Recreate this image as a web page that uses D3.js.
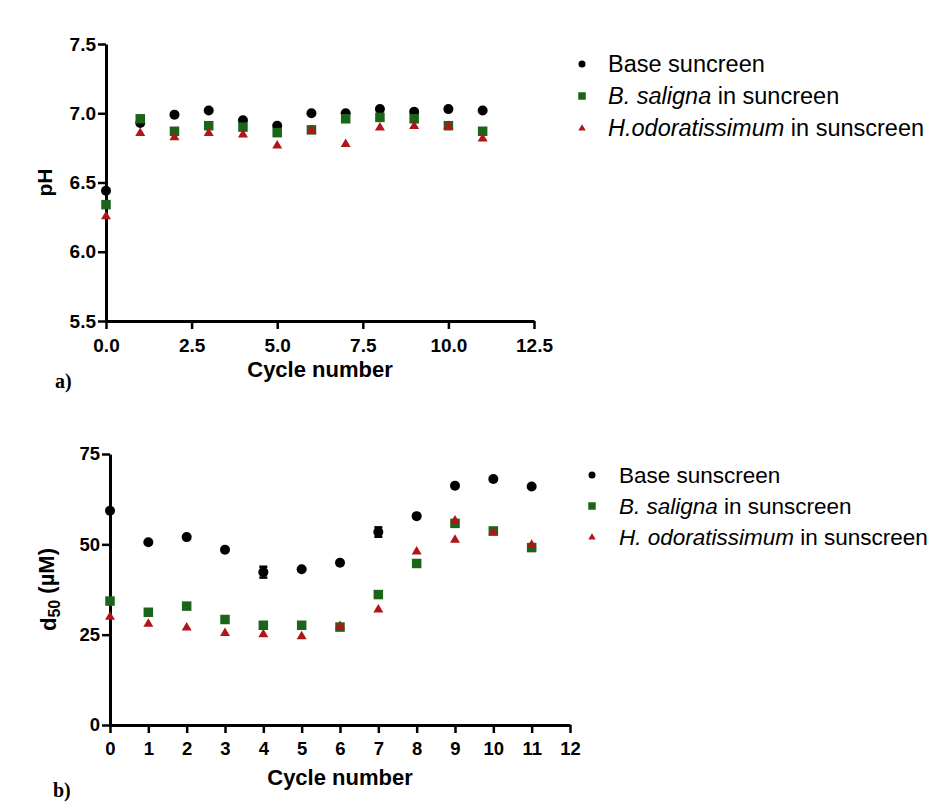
<!DOCTYPE html>
<html lang="en">
<head>
<meta charset="UTF-8">
<title>pH and d50 over cycles</title>
<script src="https://d3js.org/d3.v7.min.js"></script>
<style>
  html, body { margin: 0; padding: 0; background: #fff; overflow: hidden; }
  svg { display: block; }
  .axis path, .axis line { stroke: #000; }
  .axis text { font-family: "Liberation Sans", Arial, sans-serif; font-weight: bold; fill: #000; }
  .title { font-family: "Liberation Sans", Arial, sans-serif; font-weight: bold; fill: #000; }
  .legend text { font-family: "Liberation Sans", Arial, sans-serif; fill: #000; }
  .panel-tag { font-family: "Liberation Serif", "Times New Roman", serif; font-weight: bold; font-size: 20px; }
</style>
</head>
<body>
<svg id="chart" width="947" height="803"></svg>
<script>
// ---- data ----
const cycles = [0, 1, 2, 3, 4, 5, 6, 7, 8, 9, 10, 11];

// panel a: pH
const phBase    = [6.44, 6.93, 6.99, 7.02, 6.95, 6.91, 7.00, 7.00, 7.03, 7.01, 7.03, 7.02];
const phSaligna = [6.34, 6.96, 6.87, 6.91, 6.90, 6.86, 6.88, 6.96, 6.97, 6.96, 6.91, 6.87];
const phHodor   = [6.26, 6.86, 6.83, 6.86, 6.85, 6.77, 6.88, 6.78, 6.90, 6.91, 6.91, 6.82];

// panel b: d50 (uM)
const d50Base      = [59.3, 50.6, 52.0, 48.5, 42.3, 43.1, 44.9, 53.4, 57.8, 66.2, 68.1, 66.0];
const d50BaseErr   = [0, 0, 0, 0, 1.5, 0, 0, 1.3, 0, 0, 0, 0];
const d50Saligna   = [34.3, 31.2, 32.9, 29.2, 27.6, 27.6, 27.1, 36.1, 44.7, 55.8, 53.7, 49.1];
const d50HodorX    = [0, 1, 2, 3, 4, 5, 6, 7, 8, 9, 9, 10, 11];
const d50Hodor     = [30.1, 28.1, 27.1, 25.6, 25.2, 24.7, 27.5, 32.1, 48.1, 56.7, 51.4, 53.4, 50.0];

const phTicksX  = [0, 2.5, 5, 7.5, 10, 12.5];
const phTicksY  = [5.5, 6.0, 6.5, 7.0, 7.5];
const d50TicksX = d3.range(0, 13);
const d50TicksY = [0, 25, 50, 75];

const legendA = ["Base suncreen", "B. saligna|in suncreen", "H.odoratissimum|in sunscreen"];
const legendB = ["Base sunscreen", "B. saligna|in sunscreen", "H. odoratissimum|in sunscreen"];

const black = "#000000", green = "#1b651b", red = "#b01519";

const svg = d3.select("#chart");

function marker(g, kind, x, y, size, color) {
  if (kind === "circle") {
    g.append("circle").attr("cx", x).attr("cy", y).attr("r", size / 2).attr("fill", color);
  } else if (kind === "square") {
    g.append("rect").attr("x", x - size / 2).attr("y", y - size / 2)
      .attr("width", size).attr("height", size).attr("fill", color);
  } else {
    const h = size * 0.85;
    g.append("path")
      .attr("d", `M${x},${y - h * 0.6}L${x + size / 2},${y + h * 0.4}L${x - size / 2},${y + h * 0.4}Z`)
      .attr("fill", color);
  }
}

function drawPanel(cfg) {
  const g = svg.append("g");
  const x = d3.scaleLinear().domain(cfg.xDomain).range(cfg.xRange);
  const y = d3.scaleLinear().domain(cfg.yDomain).range(cfg.yRange);

  const xAxis = g.append("g").attr("class", "axis")
    .attr("transform", `translate(0,${cfg.yRange[0]})`)
    .call(d3.axisBottom(x).tickValues(cfg.xTicks).tickFormat(cfg.xFormat)
      .tickSizeInner(8).tickSizeOuter(0).tickPadding(cfg.xPad));
  xAxis.select(".domain").attr("stroke-width", 3);
  xAxis.selectAll(".tick line").attr("stroke-width", 2.5);
  xAxis.selectAll("text").style("font-size", cfg.tickFont + "px");

  const yAxis = g.append("g").attr("class", "axis")
    .attr("transform", `translate(${cfg.xRange[0]},0)`)
    .call(d3.axisLeft(y).tickValues(cfg.yTicks).tickFormat(cfg.yFormat)
      .tickSizeInner(8).tickSizeOuter(0).tickPadding(2));
  yAxis.select(".domain").attr("stroke-width", 3);
  yAxis.selectAll(".tick line").attr("stroke-width", 2.5);
  yAxis.selectAll("text").style("font-size", cfg.tickFont + "px");

  // axis titles
  g.append("text").attr("class", "title")
    .attr("x", (cfg.xRange[0] + cfg.xRange[1]) / 2).attr("y", cfg.xTitleY)
    .attr("text-anchor", "middle").style("font-size", "22px").text("Cycle number");

  const yt = g.append("text").attr("class", "title")
    .attr("transform", `translate(${cfg.yTitleX},${(cfg.yRange[0] + cfg.yRange[1]) / 2}) rotate(-90)`)
    .attr("text-anchor", "middle").attr("dy", "0.35em").style("font-size", cfg.yTitleFont + "px");
  cfg.yTitle(yt);

  g.append("text").attr("class", "panel-tag").attr("x", cfg.tag[0]).attr("y", cfg.tag[1]).text(cfg.tag[2]);

  // error bars
  if (cfg.err) {
    cfg.series[0].xs.forEach((c, i) => {
      const e = cfg.err[i];
      if (!e) return;
      const cx = x(c), y1 = y(cfg.series[0].ys[i] - e), y2 = y(cfg.series[0].ys[i] + e);
      g.append("line").attr("x1", cx).attr("x2", cx).attr("y1", y1).attr("y2", y2).attr("stroke", "#000").attr("stroke-width", 2);
      [y1, y2].forEach(yy => g.append("line").attr("x1", cx - 4).attr("x2", cx + 4)
        .attr("y1", yy).attr("y2", yy).attr("stroke", "#000").attr("stroke-width", 2.5));
    });
  }

  // points
  cfg.series.forEach(s => {
    const sg = g.append("g");
    s.ys.forEach((v, i) => marker(sg, s.kind, x(s.xs[i]), y(v), s.size, s.color));
  });

  // legend
  const lg = g.append("g").attr("class", "legend");
  cfg.legend.forEach((lab, i) => {
    const ly = cfg.legendY[i];
    const s = cfg.series[i];
    marker(lg, s.kind, cfg.legendX, ly, s.kind === "circle" ? 7 : 7.5, s.color);
    const t = lg.append("text").attr("x", cfg.legendX + cfg.legendGap).attr("y", ly)
      .attr("dy", "0.35em").style("font-size", cfg.legendFont + "px");
    const parts = lab.split("|");
    if (parts.length > 1) {
      t.append("tspan").style("font-style", "italic").text(parts[0]);
      t.append("tspan").text(" " + parts[1]);
    } else {
      t.text(lab);
    }
  });
}

// panel a
drawPanel({
  xDomain: [0, 12.5], xRange: [106, 534],
  yDomain: [5.5, 7.5], yRange: [321, 44],
  xTicks: phTicksX, yTicks: phTicksY,
  xFormat: d3.format(".1f"), yFormat: d3.format(".1f"),
  xPad: 10, tickFont: 19,
  xTitleY: 377, yTitleX: 45, yTitleFont: 21,
  yTitle: t => t.text("pH"),
  tag: [55, 388, "a)"],
  series: [
    { xs: cycles, ys: phBase, kind: "circle", size: 10, color: black },
    { xs: cycles, ys: phSaligna, kind: "square", size: 9.5, color: green },
    { xs: cycles, ys: phHodor, kind: "triangle", size: 10, color: red }
  ],
  legend: legendA, legendX: 582, legendGap: 26, legendY: [64, 96, 128], legendFont: 23.5
});

// panel b
drawPanel({
  xDomain: [0, 12], xRange: [110, 570],
  yDomain: [0, 75], yRange: [725, 454],
  xTicks: d50TicksX, yTicks: d50TicksY,
  xFormat: d3.format("d"), yFormat: d3.format("d"),
  xPad: 9, tickFont: 18.5,
  xTitleY: 785, yTitleX: 48, yTitleFont: 22,
  yTitle: t => {
    t.append("tspan").text("d");
    t.append("tspan").attr("dy", "0.25em").style("font-size", "16px").text("50");
    t.append("tspan").attr("dy", "-0.25em").text(" (\u00b5M)");
  },
  tag: [53, 797, "b)"],
  err: d50BaseErr,
  series: [
    { xs: cycles, ys: d50Base, kind: "circle", size: 10, color: black },
    { xs: cycles, ys: d50Saligna, kind: "square", size: 9.5, color: green },
    { xs: d50HodorX, ys: d50Hodor, kind: "triangle", size: 10, color: red }
  ],
  legend: legendB, legendX: 592, legendGap: 27, legendY: [475, 506, 537], legendFont: 22.5
});
</script>
</body>
</html>
